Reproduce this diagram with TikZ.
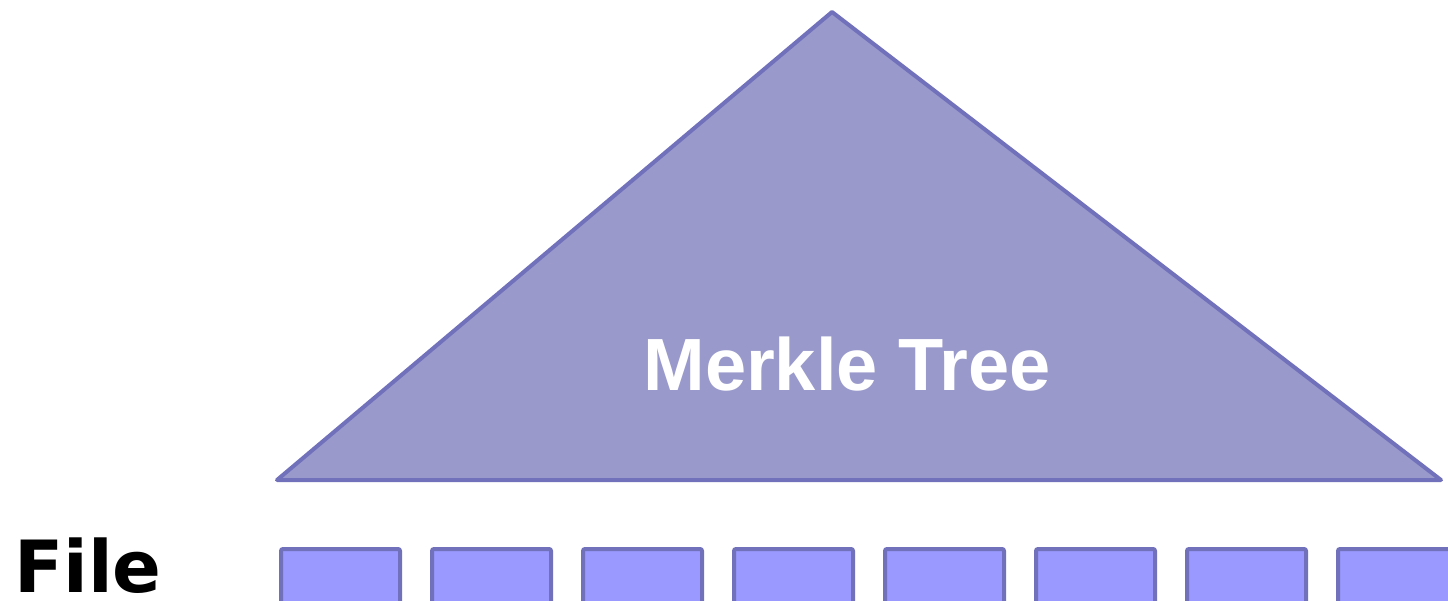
\documentclass[tikz,border=0pt]{standalone}
\usepackage{fontspec}
\newfontfamily\arialfont{Liberation Sans}
\newfontfamily\dejavufont{DejaVu Sans}
\definecolor{treefill}{HTML}{9999CC}
\definecolor{edgeblue}{HTML}{7171BB}
\definecolor{blockfill}{HTML}{9999FF}
\begin{document}
\begin{tikzpicture}[x=1pt,y=-1pt,
  blockbox/.style={draw=edgeblue,fill=blockfill,line width=4pt,rounded corners=2pt,
    minimum width=119pt,minimum height=80pt,inner sep=0pt,anchor=north west}]
\useasboundingbox (0,0) rectangle (1448,601);
\clip (0,0) rectangle (1448,601);
\coordinate (apex) at (832,12);
\coordinate (bl) at (277,480);
\coordinate (br) at (1441,480);
\draw[edgeblue,fill=treefill,line width=4pt,line join=round] (apex) -- (br) -- (bl) -- cycle;
\node[text=white,font=\arialfont\bfseries\fontsize{74}{74}\selectfont,anchor=base,inner sep=0pt] (tree) at (847,391) {Merkle Tree};
\node[font=\dejavufont\bfseries\fontsize{72}{72}\selectfont,anchor=base west,inner sep=0pt] (file) at (14,592) {File};
\foreach \i in {0,...,7}{
  \node[blockbox] (b\i) at ({279+151*\i},547) {};
}
\end{tikzpicture}
\end{document}
